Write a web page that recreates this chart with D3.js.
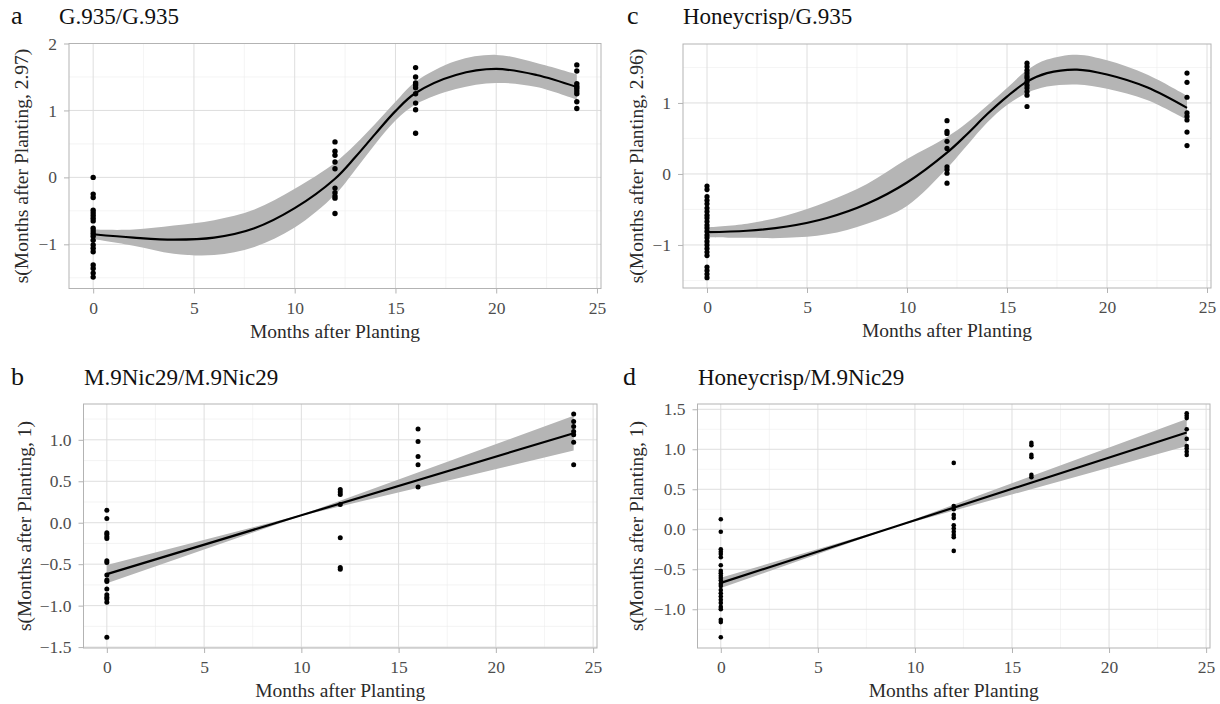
<!DOCTYPE html>
<meta charset="utf-8">
<style>
body { margin: 0; background: #fff; }
svg { font-family: "Liberation Serif", "DejaVu Serif", serif; }
.grid-major { stroke: #dedede; stroke-width: 1px; }
.grid-minor { stroke: #ededed; stroke-width: 0.6px; }
.border { fill: none; stroke: #b3b3b3; stroke-width: 1px; }
.axis path { display: none; }
.axis line { stroke: #b3b3b3; }
.axis text { fill: #4d4d4d; font-size: 17.5px; font-family: "Liberation Serif", serif; }
.band { fill: #b5b5b5; }
.fit { fill: none; stroke: #000; stroke-width: 2.2px; }
.dot { fill: #000; }
.ptitle { font-size: 23px; fill: #111; }
.letter { font-size: 26px; fill: #111; }
.atitle { font-size: 19.5px; fill: #2a2a2a; }
</style>
<svg width="1220" height="704"></svg>
<script src="https://d3js.org/d3.v7.min.js"></script>
<script>

// x ticks shared by all panels
var xTicks = [0, 5, 10, 15, 20, 25];

// a: G.935/G.935  (points by sampling month)
var aPts0 = [0.0, -0.25, -0.30, -0.49, -0.53, -0.57, -0.61, -0.65, -0.76, -0.80, -0.84, -0.88, -0.94, -1.01, -1.06, -1.11, -1.31, -1.36, -1.43, -1.49];
var aPts12 = [0.53, 0.39, 0.33, 0.23, 0.13, -0.16, -0.23, -0.28, -0.31, -0.54];
var aPts16 = [1.64, 1.50, 1.41, 1.38, 1.34, 1.25, 1.11, 1.01, 0.66];
var aPts24 = [1.68, 1.59, 1.40, 1.36, 1.33, 1.29, 1.25, 1.13, 1.03];
var aFitX = [0, 2, 4, 6, 8, 10, 12, 13, 14, 15, 16, 18, 20, 22, 24];
var aFit = [-0.85, -0.90, -0.93, -0.90, -0.76, -0.46, -0.02, 0.30, 0.65, 0.99, 1.26, 1.53, 1.62, 1.53, 1.35];
var aSe = [0.07, 0.12, 0.21, 0.26, 0.28, 0.29, 0.24, 0.19, 0.15, 0.14, 0.17, 0.21, 0.21, 0.18, 0.19];

// c: Honeycrisp/G.935
var cPts0 = [-0.17, -0.22, -0.32, -0.37, -0.42, -0.48, -0.53, -0.58, -0.62, -0.67, -0.72, -0.76, -0.81, -0.86, -0.90, -0.95, -1.00, -1.05, -1.10, -1.15, -1.31, -1.36, -1.41, -1.46];
var cPts12 = [0.75, 0.60, 0.57, 0.46, 0.36, 0.10, 0.06, 0.01, -0.13];
var cPts16 = [1.56, 1.51, 1.46, 1.42, 1.38, 1.35, 1.30, 1.25, 1.21, 1.16, 1.11, 0.95];
var cPts24 = [1.42, 1.29, 1.08, 0.86, 0.81, 0.76, 0.59, 0.40];
var cFitX = [0, 2, 4, 6, 8, 10, 12, 13, 14, 15, 16, 17, 18.5, 20, 22, 24];
var cFit = [-0.82, -0.80, -0.74, -0.62, -0.42, -0.12, 0.30, 0.56, 0.84, 1.09, 1.30, 1.42, 1.47, 1.40, 1.22, 0.93];
var cSe = [0.07, 0.10, 0.16, 0.23, 0.28, 0.33, 0.22, 0.16, 0.12, 0.12, 0.16, 0.19, 0.21, 0.20, 0.18, 0.17];

// b: M.9Nic29/M.9Nic29
var bPts0 = [0.15, 0.05, -0.12, -0.14, -0.17, -0.19, -0.46, -0.48, -0.63, -0.69, -0.71, -0.80, -0.87, -0.90, -0.92, -0.96, -1.38];
var bPts12 = [0.40, 0.37, 0.34, 0.22, -0.18, -0.54, -0.56];
var bPts16 = [1.13, 0.98, 0.80, 0.70, 0.43];
var bPts24 = [1.31, 1.22, 1.16, 1.10, 1.06, 0.97, 0.70];
var bFitX = [0, 10, 24];
var bFit = [-0.62, 0.09, 1.08];
var bSe = [0.11, 0.005, 0.21];

// d: Honeycrisp/M.9Nic29
var dPts0 = [0.125, -0.03, -0.25, -0.28, -0.31, -0.35, -0.45, -0.52, -0.55, -0.58, -0.61, -0.64, -0.68, -0.71, -0.76, -0.80, -0.84, -0.88, -0.92, -0.97, -1.00, -1.13, -1.16, -1.35];
var dPts12 = [0.83, 0.29, 0.25, 0.18, 0.14, 0.05, 0.01, -0.03, -0.07, -0.10, -0.27];
var dPts16 = [1.08, 1.05, 0.93, 0.90, 0.68, 0.65];
var dPts24 = [1.45, 1.42, 1.39, 1.25, 1.13, 1.04, 1.01, 0.97, 0.93];
var dFitX = [0, 9, 24];
var dFit = [-0.67, 0.035, 1.21];
var dSe = [0.065, 0.004, 0.17];

var svg = d3.select("svg");

function toPoints(p0, p12, p16, p24) {
    var out = [];
    [[0, p0], [12, p12], [16, p16], [24, p24]].forEach(function(m) {
        m[1].forEach(function(v) { out.push([m[0], v]); });
    });
    return out;
}

function panel(p) {
    var x = d3.scaleLinear().domain([-1.2, 25.2]).range([p.left, p.right]);
    var y = d3.scaleLinear().domain(p.yDomain).range([p.bottom, p.top]);
    var g = svg.append("g");

    var xMinor = d3.range(2.5, 25, 5);
    g.selectAll(".mx").data(xMinor).join("line")
        .attr("class", "grid-minor")
        .attr("x1", x).attr("x2", x).attr("y1", p.top).attr("y2", p.bottom);
    g.selectAll(".my").data(p.yMinor).join("line")
        .attr("class", "grid-minor")
        .attr("x1", p.left).attr("x2", p.right).attr("y1", y).attr("y2", y);
    g.selectAll(".gx").data(xTicks).join("line")
        .attr("class", "grid-major")
        .attr("x1", x).attr("x2", x).attr("y1", p.top).attr("y2", p.bottom);
    g.selectAll(".gy").data(p.yTicks).join("line")
        .attr("class", "grid-major")
        .attr("x1", p.left).attr("x2", p.right).attr("y1", y).attr("y2", y);

    var fitData = p.fitX.map(function(d, i) { return [d, p.fit[i], p.se[i]]; });

    var band = d3.area()
        .x(function(d) { return x(d[0]); })
        .y0(function(d) { return y(d[1] - d[2]); })
        .y1(function(d) { return y(d[1] + d[2]); })
        .curve(p.curve);
    g.append("path").datum(fitData).attr("class", "band").attr("d", band);

    var line = d3.line()
        .x(function(d) { return x(d[0]); })
        .y(function(d) { return y(d[1]); })
        .curve(p.curve);
    g.append("path").datum(fitData).attr("class", "fit").attr("d", line);

    g.selectAll(".dot").data(p.points).join("circle")
        .attr("class", "dot")
        .attr("cx", function(d) { return x(d[0]); })
        .attr("cy", function(d) { return y(d[1]); })
        .attr("r", p.r);

    g.append("rect").attr("class", "border")
        .attr("x", p.left).attr("y", p.top)
        .attr("width", p.right - p.left).attr("height", p.bottom - p.top);

    g.append("g").attr("class", "axis")
        .attr("transform", "translate(0," + p.bottom + ")")
        .call(d3.axisBottom(x).tickValues(xTicks).tickSize(5).tickPadding(8));
    g.append("g").attr("class", "axis")
        .attr("transform", "translate(" + p.left + ",0)")
        .call(d3.axisLeft(y).tickValues(p.yTicks).tickFormat(p.fmt).tickSize(5).tickPadding(7));

    g.append("text").attr("class", "letter")
        .attr("x", p.letterX).attr("y", p.titleY).text(p.letter);
    g.append("text").attr("class", "ptitle")
        .attr("x", p.titleX).attr("y", p.titleY).text(p.title);

    g.append("text").attr("class", "atitle")
        .attr("text-anchor", "middle")
        .attr("x", (p.left + p.right) / 2).attr("y", p.bottom + 49)
        .text("Months after Planting");
    g.append("text").attr("class", "atitle")
        .attr("text-anchor", "middle")
        .attr("transform", "translate(" + p.yTitleX + "," + ((p.top + p.bottom) / 2) + ") rotate(-90)")
        .attr("dy", "0.35em")
        .text(p.yTitle);
}

panel({
    letter: "a", title: "G.935/G.935", yTitle: "s(Months after Planting, 2.97)",
    left: 69, right: 601, top: 43.5, bottom: 288.5,
    yDomain: [-1.66, 2.0], yTicks: [-1, 0, 1, 2], yMinor: [-1.5, -0.5, 0.5, 1.5], fmt: d3.format("d"),
    points: toPoints(aPts0, aPts12, aPts16, aPts24),
    fitX: aFitX, fit: aFit, se: aSe, curve: d3.curveCatmullRom.alpha(0.5), r: 2.7,
    letterX: 11, titleX: 59, titleY: 24, yTitleX: 21
});

panel({
    letter: "c", title: "Honeycrisp/G.935", yTitle: "s(Months after Planting, 2.96)",
    left: 683, right: 1211, top: 44, bottom: 288,
    yDomain: [-1.606, 1.83], yTicks: [-1, 0, 1], yMinor: [-1.5, -0.5, 0.5, 1.5], fmt: d3.format("d"),
    points: toPoints(cPts0, cPts12, cPts16, cPts24),
    fitX: cFitX, fit: cFit, se: cSe, curve: d3.curveCatmullRom.alpha(0.5), r: 2.6,
    letterX: 627, titleX: 683, titleY: 24, yTitleX: 636
});

panel({
    letter: "b", title: "M.9Nic29/M.9Nic29", yTitle: "s(Months after Planting, 1)",
    left: 83.5, right: 597, top: 404, bottom: 648,
    yDomain: [-1.511, 1.432], yTicks: [-1.5, -1.0, -0.5, 0, 0.5, 1.0], yMinor: d3.range(-1.25, 1.5, 0.5), fmt: d3.format(".1f"),
    points: toPoints(bPts0, bPts12, bPts16, bPts24),
    fitX: bFitX, fit: bFit, se: bSe, curve: d3.curveLinear, r: 2.5,
    letterX: 11, titleX: 84, titleY: 385, yTitleX: 24
});

panel({
    letter: "d", title: "Honeycrisp/M.9Nic29", yTitle: "s(Months after Planting, 1)",
    left: 697.5, right: 1210, top: 404, bottom: 648,
    yDomain: [-1.484, 1.566], yTicks: [-1.0, -0.5, 0, 0.5, 1.0, 1.5], yMinor: d3.range(-1.25, 1.5, 0.5), fmt: d3.format(".1f"),
    points: toPoints(dPts0, dPts12, dPts16, dPts24),
    fitX: dFitX, fit: dFit, se: dSe, curve: d3.curveLinear, r: 2.3,
    letterX: 623, titleX: 698, titleY: 385, yTitleX: 636
});

</script>
